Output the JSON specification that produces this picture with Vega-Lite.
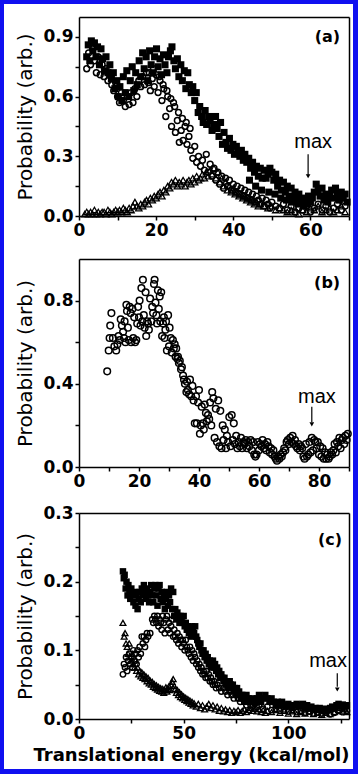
{
"$schema": "https://vega.github.io/schema/vega-lite/v6.json",
"background": "#1010f0",
"padding": {"left": 4, "top": 4, "right": 5, "bottom": 5},
"config": {
  "view": {"fill": "white", "stroke": null},
  "axis": {"domainColor": "black", "domainWidth": 1.5, "tickColor": "black", "tickWidth": 1.5, "tickSize": 4, "labelFont": "DejaVu Sans", "labelFontWeight": "bold", "labelFontSize": 17, "labelColor": "black", "labelPadding": 2, "labelFlush": false, "labelOverlap": false, "grid": false, "titleFont": "DejaVu Sans", "titleColor": "black", "titleFontWeight": "normal", "titleFontSize": 20, "titlePadding": 7}
},
"datasets": {
"a_sq": [{"x":2.0,"y":0.80},{"x":2.4,"y":0.86},{"x":2.8,"y":0.78},{"x":3.2,"y":0.88},{"x":3.6,"y":0.83},{"x":4.0,"y":0.87},{"x":4.4,"y":0.80},{"x":4.8,"y":0.85},{"x":5.3,"y":0.76},{"x":5.7,"y":0.84},{"x":6.1,"y":0.79},{"x":6.6,"y":0.73},{"x":7.0,"y":0.80},{"x":7.5,"y":0.72},{"x":8.0,"y":0.76},{"x":8.4,"y":0.69},{"x":8.9,"y":0.72},{"x":9.3,"y":0.64},{"x":9.8,"y":0.68},{"x":10.2,"y":0.60},{"x":10.6,"y":0.65},{"x":11.1,"y":0.58},{"x":11.5,"y":0.70},{"x":12.0,"y":0.62},{"x":12.4,"y":0.73},{"x":12.9,"y":0.60},{"x":13.3,"y":0.68},{"x":13.8,"y":0.75},{"x":14.2,"y":0.63},{"x":14.7,"y":0.72},{"x":15.1,"y":0.66},{"x":15.6,"y":0.78},{"x":16.0,"y":0.70},{"x":16.5,"y":0.82},{"x":16.9,"y":0.74},{"x":17.4,"y":0.80},{"x":17.8,"y":0.68},{"x":18.3,"y":0.83},{"x":18.7,"y":0.76},{"x":19.2,"y":0.72},{"x":19.6,"y":0.80},{"x":20.1,"y":0.84},{"x":20.5,"y":0.75},{"x":21.0,"y":0.79},{"x":21.4,"y":0.71},{"x":21.9,"y":0.81},{"x":22.3,"y":0.76},{"x":22.8,"y":0.72},{"x":23.2,"y":0.80},{"x":23.7,"y":0.83},{"x":24.1,"y":0.85},{"x":24.6,"y":0.78},{"x":25.0,"y":0.74},{"x":25.5,"y":0.79},{"x":25.9,"y":0.70},{"x":26.4,"y":0.76},{"x":26.8,"y":0.68},{"x":27.3,"y":0.73},{"x":27.7,"y":0.64},{"x":28.2,"y":0.72},{"x":28.6,"y":0.66},{"x":29.1,"y":0.62},{"x":29.5,"y":0.65},{"x":30.0,"y":0.58},{"x":30.4,"y":0.62},{"x":30.9,"y":0.52},{"x":31.3,"y":0.55},{"x":31.8,"y":0.50},{"x":32.2,"y":0.47},{"x":32.7,"y":0.53},{"x":33.1,"y":0.46},{"x":33.6,"y":0.50},{"x":34.0,"y":0.48},{"x":34.5,"y":0.43},{"x":34.9,"y":0.46},{"x":35.4,"y":0.50},{"x":35.8,"y":0.44},{"x":36.3,"y":0.40},{"x":36.7,"y":0.47},{"x":37.2,"y":0.36},{"x":37.6,"y":0.42},{"x":38.1,"y":0.37},{"x":38.5,"y":0.34},{"x":39.0,"y":0.39},{"x":39.4,"y":0.33},{"x":39.9,"y":0.36},{"x":40.3,"y":0.31},{"x":40.8,"y":0.35},{"x":41.2,"y":0.32},{"x":41.7,"y":0.30},{"x":42.1,"y":0.33},{"x":42.6,"y":0.28},{"x":43.0,"y":0.31},{"x":43.5,"y":0.27},{"x":44.0,"y":0.29},{"x":44.2,"y":0.18},{"x":44.5,"y":0.24},{"x":45.0,"y":0.27},{"x":45.5,"y":0.22},{"x":45.8,"y":0.15},{"x":46.0,"y":0.25},{"x":46.5,"y":0.20},{"x":47.0,"y":0.24},{"x":47.3,"y":0.13},{"x":47.5,"y":0.19},{"x":48.0,"y":0.23},{"x":48.5,"y":0.19},{"x":49.0,"y":0.21},{"x":49.2,"y":0.12},{"x":49.5,"y":0.24},{"x":50.0,"y":0.22},{"x":50.5,"y":0.18},{"x":50.8,"y":0.11},{"x":51.0,"y":0.21},{"x":51.5,"y":0.15},{"x":52.0,"y":0.18},{"x":52.3,"y":0.09},{"x":52.5,"y":0.13},{"x":53.0,"y":0.17},{"x":53.5,"y":0.12},{"x":53.8,"y":0.08},{"x":54.0,"y":0.15},{"x":54.5,"y":0.10},{"x":55.0,"y":0.14},{"x":55.2,"y":0.07},{"x":55.5,"y":0.09},{"x":56.0,"y":0.12},{"x":56.5,"y":0.08},{"x":56.8,"y":0.06},{"x":57.0,"y":0.11},{"x":57.5,"y":0.07},{"x":58.0,"y":0.09},{"x":58.2,"y":0.05},{"x":58.5,"y":0.06},{"x":59.0,"y":0.08},{"x":59.3,"y":0.06},{"x":59.5,"y":0.10},{"x":60.0,"y":0.07},{"x":60.5,"y":0.09},{"x":61.0,"y":0.12},{"x":61.5,"y":0.16},{"x":62.0,"y":0.13},{"x":62.5,"y":0.10},{"x":63.0,"y":0.14},{"x":63.5,"y":0.08},{"x":64.0,"y":0.11},{"x":64.5,"y":0.07},{"x":65.0,"y":0.10},{"x":65.5,"y":0.13},{"x":66.0,"y":0.09},{"x":66.5,"y":0.14},{"x":67.0,"y":0.11},{"x":67.5,"y":0.08},{"x":68.0,"y":0.12},{"x":68.5,"y":0.09},{"x":69.0,"y":0.11},{"x":69.5,"y":0.07}],
"a_ci": [{"x":2.0,"y":0.74},{"x":2.5,"y":0.82},{"x":3.0,"y":0.76},{"x":3.5,"y":0.84},{"x":4.0,"y":0.78},{"x":4.5,"y":0.72},{"x":5.0,"y":0.80},{"x":5.5,"y":0.71},{"x":6.0,"y":0.76},{"x":6.5,"y":0.70},{"x":7.0,"y":0.74},{"x":7.5,"y":0.68},{"x":8.0,"y":0.71},{"x":8.5,"y":0.66},{"x":9.0,"y":0.63},{"x":9.5,"y":0.67},{"x":10.0,"y":0.60},{"x":10.5,"y":0.57},{"x":11.0,"y":0.62},{"x":11.5,"y":0.58},{"x":12.0,"y":0.55},{"x":12.5,"y":0.60},{"x":13.0,"y":0.56},{"x":13.5,"y":0.62},{"x":14.0,"y":0.57},{"x":14.5,"y":0.64},{"x":15.0,"y":0.60},{"x":15.5,"y":0.68},{"x":16.0,"y":0.65},{"x":16.5,"y":0.70},{"x":17.0,"y":0.66},{"x":17.5,"y":0.72},{"x":18.0,"y":0.67},{"x":18.2,"y":0.72},{"x":18.5,"y":0.63},{"x":19.0,"y":0.69},{"x":19.3,"y":0.74},{"x":19.5,"y":0.65},{"x":20.0,"y":0.71},{"x":20.5,"y":0.62},{"x":20.8,"y":0.70},{"x":21.0,"y":0.68},{"x":21.5,"y":0.58},{"x":21.8,"y":0.66},{"x":22.0,"y":0.64},{"x":22.5,"y":0.50},{"x":22.8,"y":0.63},{"x":23.0,"y":0.60},{"x":23.5,"y":0.54},{"x":23.8,"y":0.59},{"x":24.0,"y":0.45},{"x":24.5,"y":0.57},{"x":24.8,"y":0.55},{"x":25.0,"y":0.42},{"x":25.5,"y":0.48},{"x":25.8,"y":0.52},{"x":26.0,"y":0.37},{"x":26.5,"y":0.43},{"x":26.8,"y":0.49},{"x":27.0,"y":0.38},{"x":27.5,"y":0.45},{"x":27.8,"y":0.47},{"x":28.0,"y":0.36},{"x":28.5,"y":0.40},{"x":28.8,"y":0.44},{"x":29.0,"y":0.33},{"x":29.5,"y":0.29},{"x":30.0,"y":0.35},{"x":30.5,"y":0.27},{"x":31.0,"y":0.30},{"x":31.5,"y":0.25},{"x":32.0,"y":0.28},{"x":32.5,"y":0.23},{"x":33.0,"y":0.31},{"x":33.5,"y":0.22},{"x":34.0,"y":0.26},{"x":34.5,"y":0.20},{"x":35.0,"y":0.24},{"x":35.5,"y":0.18},{"x":36.0,"y":0.22},{"x":36.5,"y":0.16},{"x":37.0,"y":0.20},{"x":37.5,"y":0.14},{"x":38.0,"y":0.19},{"x":38.5,"y":0.15},{"x":39.0,"y":0.18},{"x":39.5,"y":0.13},{"x":40.0,"y":0.16},{"x":40.5,"y":0.12},{"x":41.0,"y":0.15},{"x":41.5,"y":0.11},{"x":42.0,"y":0.14},{"x":42.5,"y":0.10},{"x":43.0,"y":0.13},{"x":43.5,"y":0.09},{"x":44.0,"y":0.12},{"x":44.5,"y":0.08},{"x":45.0,"y":0.11},{"x":45.5,"y":0.07},{"x":46.0,"y":0.10},{"x":46.5,"y":0.08},{"x":47.0,"y":0.06},{"x":47.5,"y":0.09},{"x":48.0,"y":0.05},{"x":48.5,"y":0.08},{"x":49.0,"y":0.06},{"x":49.5,"y":0.04},{"x":50.0,"y":0.07},{"x":51.0,"y":0.05},{"x":52.0,"y":0.04},{"x":53.0,"y":0.06},{"x":54.0,"y":0.03},{"x":55.0,"y":0.05},{"x":56.0,"y":0.02},{"x":57.0,"y":0.04},{"x":58.0,"y":0.03},{"x":59.0,"y":0.05},{"x":60.0,"y":0.02},{"x":61.0,"y":0.04},{"x":62.0,"y":0.06},{"x":63.0,"y":0.03},{"x":64.0,"y":0.05},{"x":65.0,"y":0.02},{"x":66.0,"y":0.04},{"x":67.0,"y":0.06},{"x":68.0,"y":0.03},{"x":69.0,"y":0.05}],
"a_tr": [{"x":1.5,"y":0.01},{"x":2.0,"y":0.02},{"x":2.5,"y":0.01},{"x":3.0,"y":0.02},{"x":3.5,"y":0.01},{"x":4.0,"y":0.03},{"x":4.5,"y":0.01},{"x":5.0,"y":0.02},{"x":5.5,"y":0.01},{"x":6.0,"y":0.02},{"x":6.5,"y":0.02},{"x":7.0,"y":0.01},{"x":7.5,"y":0.03},{"x":8.0,"y":0.02},{"x":8.5,"y":0.01},{"x":9.0,"y":0.02},{"x":9.5,"y":0.03},{"x":10.0,"y":0.02},{"x":10.5,"y":0.03},{"x":11.0,"y":0.02},{"x":11.5,"y":0.04},{"x":12.0,"y":0.03},{"x":12.5,"y":0.02},{"x":13.0,"y":0.04},{"x":13.5,"y":0.03},{"x":14.0,"y":0.05},{"x":14.5,"y":0.07},{"x":15.0,"y":0.05},{"x":15.5,"y":0.04},{"x":16.0,"y":0.06},{"x":16.5,"y":0.05},{"x":17.0,"y":0.07},{"x":17.5,"y":0.08},{"x":18.0,"y":0.06},{"x":18.5,"y":0.09},{"x":19.0,"y":0.08},{"x":19.5,"y":0.10},{"x":20.0,"y":0.09},{"x":20.5,"y":0.11},{"x":21.0,"y":0.12},{"x":21.5,"y":0.10},{"x":22.0,"y":0.13},{"x":22.5,"y":0.12},{"x":23.0,"y":0.15},{"x":23.5,"y":0.14},{"x":24.0,"y":0.17},{"x":24.5,"y":0.16},{"x":25.0,"y":0.18},{"x":25.5,"y":0.15},{"x":26.0,"y":0.17},{"x":26.5,"y":0.16},{"x":27.0,"y":0.18},{"x":27.5,"y":0.15},{"x":28.0,"y":0.17},{"x":28.5,"y":0.18},{"x":29.0,"y":0.16},{"x":29.5,"y":0.19},{"x":30.0,"y":0.17},{"x":30.5,"y":0.20},{"x":31.0,"y":0.18},{"x":31.5,"y":0.19},{"x":32.0,"y":0.21},{"x":32.5,"y":0.19},{"x":33.0,"y":0.22},{"x":33.5,"y":0.20},{"x":34.0,"y":0.23},{"x":34.5,"y":0.21},{"x":35.0,"y":0.24},{"x":35.5,"y":0.19},{"x":36.0,"y":0.22},{"x":36.5,"y":0.17},{"x":37.0,"y":0.19},{"x":37.5,"y":0.15},{"x":38.0,"y":0.17},{"x":38.5,"y":0.13},{"x":39.0,"y":0.15},{"x":39.5,"y":0.12},{"x":40.0,"y":0.14},{"x":40.5,"y":0.11},{"x":41.0,"y":0.12},{"x":41.5,"y":0.10},{"x":42.0,"y":0.11},{"x":42.5,"y":0.09},{"x":43.0,"y":0.10},{"x":43.5,"y":0.08},{"x":44.0,"y":0.09},{"x":44.5,"y":0.07},{"x":45.0,"y":0.08},{"x":45.5,"y":0.06},{"x":46.0,"y":0.07},{"x":46.5,"y":0.05},{"x":47.0,"y":0.06},{"x":48.0,"y":0.05},{"x":49.0,"y":0.04},{"x":50.0,"y":0.05},{"x":51.0,"y":0.03},{"x":52.0,"y":0.04},{"x":53.0,"y":0.03},{"x":54.0,"y":0.02},{"x":55.0,"y":0.03},{"x":56.0,"y":0.02},{"x":57.0,"y":0.01},{"x":58.0,"y":0.03},{"x":59.0,"y":0.02},{"x":60.0,"y":0.04},{"x":61.0,"y":0.03},{"x":62.0,"y":0.05},{"x":63.0,"y":0.02},{"x":64.0,"y":0.03},{"x":65.0,"y":0.04},{"x":66.0,"y":0.02},{"x":67.0,"y":0.03},{"x":68.0,"y":0.05},{"x":69.0,"y":0.02}],
"b_ci": [{"x":9.4,"y":0.46},{"x":9.9,"y":0.56},{"x":10.2,"y":0.62},{"x":10.4,"y":0.68},{"x":10.8,"y":0.74},{"x":11.3,"y":0.62},{"x":11.8,"y":0.58},{"x":12.4,"y":0.56},{"x":12.8,"y":0.59},{"x":13.2,"y":0.63},{"x":13.6,"y":0.61},{"x":13.9,"y":0.71},{"x":14.3,"y":0.68},{"x":14.7,"y":0.65},{"x":15.0,"y":0.62},{"x":15.2,"y":0.70},{"x":15.5,"y":0.60},{"x":15.8,"y":0.78},{"x":16.0,"y":0.75},{"x":16.3,"y":0.67},{"x":16.6,"y":0.61},{"x":16.9,"y":0.77},{"x":17.2,"y":0.74},{"x":17.4,"y":0.60},{"x":17.8,"y":0.76},{"x":18.1,"y":0.62},{"x":18.4,"y":0.72},{"x":18.7,"y":0.60},{"x":19.1,"y":0.61},{"x":19.4,"y":0.69},{"x":19.7,"y":0.77},{"x":20.0,"y":0.72},{"x":20.2,"y":0.80},{"x":20.5,"y":0.68},{"x":20.8,"y":0.86},{"x":21.1,"y":0.70},{"x":21.3,"y":0.90},{"x":21.6,"y":0.73},{"x":21.9,"y":0.67},{"x":22.2,"y":0.84},{"x":22.4,"y":0.63},{"x":22.7,"y":0.70},{"x":23.0,"y":0.69},{"x":23.3,"y":0.66},{"x":23.7,"y":0.81},{"x":24.1,"y":0.70},{"x":24.4,"y":0.77},{"x":24.7,"y":0.74},{"x":25.0,"y":0.88},{"x":25.2,"y":0.90},{"x":25.5,"y":0.79},{"x":25.8,"y":0.73},{"x":26.0,"y":0.69},{"x":26.3,"y":0.85},{"x":26.6,"y":0.76},{"x":26.9,"y":0.82},{"x":27.1,"y":0.70},{"x":27.4,"y":0.84},{"x":27.7,"y":0.63},{"x":28.0,"y":0.69},{"x":28.3,"y":0.72},{"x":28.5,"y":0.62},{"x":28.8,"y":0.66},{"x":29.0,"y":0.70},{"x":29.3,"y":0.56},{"x":29.7,"y":0.73},{"x":30.0,"y":0.58},{"x":30.2,"y":0.67},{"x":30.6,"y":0.62},{"x":30.9,"y":0.55},{"x":31.3,"y":0.61},{"x":31.6,"y":0.57},{"x":31.9,"y":0.59},{"x":32.2,"y":0.53},{"x":32.4,"y":0.57},{"x":32.8,"y":0.52},{"x":33.0,"y":0.53},{"x":33.3,"y":0.50},{"x":33.6,"y":0.51},{"x":34.0,"y":0.47},{"x":34.3,"y":0.48},{"x":34.7,"y":0.44},{"x":35.0,"y":0.42},{"x":35.3,"y":0.40},{"x":35.8,"y":0.36},{"x":36.0,"y":0.41},{"x":36.3,"y":0.37},{"x":36.7,"y":0.35},{"x":37.0,"y":0.42},{"x":37.4,"y":0.34},{"x":37.8,"y":0.39},{"x":38.2,"y":0.32},{"x":38.6,"y":0.21},{"x":39.0,"y":0.34},{"x":39.3,"y":0.21},{"x":39.7,"y":0.31},{"x":40.0,"y":0.37},{"x":40.3,"y":0.16},{"x":40.6,"y":0.20},{"x":40.9,"y":0.29},{"x":41.3,"y":0.21},{"x":41.6,"y":0.18},{"x":41.9,"y":0.30},{"x":42.3,"y":0.26},{"x":42.6,"y":0.22},{"x":43.0,"y":0.25},{"x":43.4,"y":0.23},{"x":43.7,"y":0.31},{"x":44.1,"y":0.20},{"x":44.4,"y":0.36},{"x":44.8,"y":0.33},{"x":45.2,"y":0.14},{"x":45.6,"y":0.28},{"x":46.0,"y":0.12},{"x":46.4,"y":0.32},{"x":46.8,"y":0.10},{"x":47.1,"y":0.27},{"x":47.5,"y":0.09},{"x":47.9,"y":0.20},{"x":48.2,"y":0.13},{"x":48.6,"y":0.18},{"x":49.0,"y":0.09},{"x":49.3,"y":0.15},{"x":49.7,"y":0.12},{"x":50.1,"y":0.24},{"x":50.5,"y":0.10},{"x":50.9,"y":0.25},{"x":51.3,"y":0.13},{"x":51.6,"y":0.21},{"x":52.0,"y":0.11},{"x":52.4,"y":0.15},{"x":52.8,"y":0.09},{"x":53.2,"y":0.12},{"x":53.6,"y":0.10},{"x":54.0,"y":0.14},{"x":54.4,"y":0.09},{"x":54.8,"y":0.12},{"x":55.2,"y":0.11},{"x":55.6,"y":0.13},{"x":56.0,"y":0.09},{"x":56.4,"y":0.12},{"x":56.8,"y":0.10},{"x":57.2,"y":0.13},{"x":57.6,"y":0.08},{"x":58.0,"y":0.12},{"x":58.4,"y":0.06},{"x":58.8,"y":0.05},{"x":59.2,"y":0.06},{"x":59.6,"y":0.12},{"x":60.0,"y":0.08},{"x":60.4,"y":0.11},{"x":60.8,"y":0.10},{"x":61.2,"y":0.13},{"x":61.6,"y":0.09},{"x":62.0,"y":0.11},{"x":62.4,"y":0.08},{"x":62.8,"y":0.12},{"x":63.2,"y":0.10},{"x":63.6,"y":0.07},{"x":64.0,"y":0.09},{"x":64.4,"y":0.06},{"x":64.8,"y":0.08},{"x":65.2,"y":0.05},{"x":65.6,"y":0.04},{"x":66.0,"y":0.03},{"x":66.4,"y":0.05},{"x":66.8,"y":0.04},{"x":67.2,"y":0.06},{"x":67.6,"y":0.05},{"x":68.0,"y":0.07},{"x":68.4,"y":0.09},{"x":68.8,"y":0.08},{"x":69.2,"y":0.12},{"x":69.6,"y":0.13},{"x":70.0,"y":0.11},{"x":70.4,"y":0.14},{"x":70.8,"y":0.12},{"x":71.2,"y":0.15},{"x":71.6,"y":0.11},{"x":72.0,"y":0.13},{"x":72.4,"y":0.10},{"x":72.8,"y":0.09},{"x":73.2,"y":0.11},{"x":73.6,"y":0.08},{"x":74.0,"y":0.10},{"x":74.4,"y":0.09},{"x":74.8,"y":0.05},{"x":75.2,"y":0.04},{"x":75.6,"y":0.11},{"x":76.0,"y":0.05},{"x":76.4,"y":0.06},{"x":76.8,"y":0.12},{"x":77.2,"y":0.07},{"x":77.6,"y":0.14},{"x":78.0,"y":0.08},{"x":78.4,"y":0.13},{"x":78.8,"y":0.12},{"x":79.2,"y":0.09},{"x":79.6,"y":0.12},{"x":80.0,"y":0.06},{"x":80.4,"y":0.10},{"x":80.8,"y":0.05},{"x":81.2,"y":0.09},{"x":81.6,"y":0.04},{"x":82.0,"y":0.07},{"x":82.4,"y":0.04},{"x":82.8,"y":0.06},{"x":83.2,"y":0.04},{"x":83.6,"y":0.05},{"x":84.0,"y":0.07},{"x":84.4,"y":0.06},{"x":84.8,"y":0.08},{"x":85.2,"y":0.11},{"x":85.6,"y":0.07},{"x":86.0,"y":0.12},{"x":86.4,"y":0.10},{"x":86.8,"y":0.14},{"x":87.2,"y":0.09},{"x":87.6,"y":0.13},{"x":88.0,"y":0.14},{"x":88.4,"y":0.11},{"x":88.8,"y":0.15},{"x":89.2,"y":0.13},{"x":89.6,"y":0.16}],
"c_sq": [{"x":21.0,"y":0.215},{"x":21.4,"y":0.205},{"x":21.8,"y":0.21},{"x":22.3,"y":0.19},{"x":22.7,"y":0.20},{"x":23.2,"y":0.18},{"x":23.6,"y":0.195},{"x":24.1,"y":0.185},{"x":24.5,"y":0.175},{"x":25.0,"y":0.19},{"x":25.5,"y":0.18},{"x":26.0,"y":0.17},{"x":26.5,"y":0.185},{"x":27.0,"y":0.165},{"x":27.5,"y":0.18},{"x":28.0,"y":0.16},{"x":28.5,"y":0.175},{"x":29.0,"y":0.185},{"x":29.5,"y":0.17},{"x":30.0,"y":0.19},{"x":30.5,"y":0.18},{"x":31.0,"y":0.195},{"x":31.5,"y":0.185},{"x":32.0,"y":0.175},{"x":32.5,"y":0.19},{"x":33.0,"y":0.18},{"x":33.5,"y":0.17},{"x":34.0,"y":0.185},{"x":34.5,"y":0.195},{"x":35.0,"y":0.18},{"x":35.5,"y":0.17},{"x":36.0,"y":0.19},{"x":36.5,"y":0.195},{"x":37.0,"y":0.18},{"x":37.5,"y":0.165},{"x":38.0,"y":0.19},{"x":38.5,"y":0.195},{"x":39.0,"y":0.175},{"x":39.5,"y":0.185},{"x":40.0,"y":0.17},{"x":40.5,"y":0.18},{"x":41.0,"y":0.16},{"x":41.5,"y":0.175},{"x":42.0,"y":0.185},{"x":42.5,"y":0.165},{"x":43.0,"y":0.18},{"x":43.5,"y":0.17},{"x":44.0,"y":0.19},{"x":44.5,"y":0.16},{"x":45.0,"y":0.185},{"x":45.5,"y":0.15},{"x":46.0,"y":0.16},{"x":46.5,"y":0.145},{"x":47.0,"y":0.155},{"x":47.5,"y":0.15},{"x":48.0,"y":0.14},{"x":48.5,"y":0.15},{"x":49.0,"y":0.145},{"x":49.5,"y":0.14},{"x":50.0,"y":0.15},{"x":50.5,"y":0.135},{"x":51.0,"y":0.14},{"x":51.5,"y":0.13},{"x":52.0,"y":0.135},{"x":52.5,"y":0.125},{"x":53.0,"y":0.13},{"x":53.5,"y":0.12},{"x":54.0,"y":0.135},{"x":54.5,"y":0.13},{"x":55.0,"y":0.125},{"x":55.5,"y":0.135},{"x":56.0,"y":0.12},{"x":56.5,"y":0.115},{"x":57.0,"y":0.11},{"x":57.5,"y":0.105},{"x":58.0,"y":0.11},{"x":58.5,"y":0.10},{"x":59.0,"y":0.095},{"x":59.5,"y":0.10},{"x":60.0,"y":0.09},{"x":60.5,"y":0.095},{"x":61.0,"y":0.085},{"x":61.5,"y":0.09},{"x":62.0,"y":0.08},{"x":62.5,"y":0.085},{"x":63.0,"y":0.075},{"x":63.5,"y":0.08},{"x":64.0,"y":0.085},{"x":64.5,"y":0.075},{"x":65.0,"y":0.08},{"x":65.5,"y":0.07},{"x":66.0,"y":0.075},{"x":66.5,"y":0.065},{"x":67.0,"y":0.07},{"x":67.5,"y":0.06},{"x":68.0,"y":0.065},{"x":68.5,"y":0.06},{"x":69.0,"y":0.055},{"x":69.5,"y":0.06},{"x":70.0,"y":0.05},{"x":70.5,"y":0.055},{"x":71.0,"y":0.05},{"x":71.5,"y":0.045},{"x":72.0,"y":0.055},{"x":72.5,"y":0.05},{"x":73.0,"y":0.045},{"x":73.5,"y":0.05},{"x":74.0,"y":0.04},{"x":74.5,"y":0.045},{"x":75.0,"y":0.04},{"x":75.5,"y":0.045},{"x":76.0,"y":0.035},{"x":76.5,"y":0.04},{"x":77.0,"y":0.035},{"x":77.5,"y":0.03},{"x":78.0,"y":0.035},{"x":78.5,"y":0.03},{"x":79.0,"y":0.025},{"x":79.5,"y":0.03},{"x":80.0,"y":0.035},{"x":81.0,"y":0.03},{"x":82.0,"y":0.025},{"x":83.0,"y":0.03},{"x":84.0,"y":0.025},{"x":85.0,"y":0.03},{"x":86.0,"y":0.035},{"x":87.0,"y":0.025},{"x":88.0,"y":0.03},{"x":89.0,"y":0.035},{"x":90.0,"y":0.03},{"x":91.0,"y":0.025},{"x":92.0,"y":0.03},{"x":93.0,"y":0.025},{"x":94.0,"y":0.02},{"x":95.0,"y":0.025},{"x":96.0,"y":0.02},{"x":97.0,"y":0.025},{"x":98.0,"y":0.02},{"x":99.0,"y":0.018},{"x":100.0,"y":0.022},{"x":101.0,"y":0.02},{"x":102.0,"y":0.016},{"x":103.0,"y":0.02},{"x":104.0,"y":0.022},{"x":105.0,"y":0.018},{"x":106.0,"y":0.02},{"x":107.0,"y":0.022},{"x":108.0,"y":0.016},{"x":109.0,"y":0.02},{"x":110.0,"y":0.015},{"x":111.0,"y":0.018},{"x":112.0,"y":0.014},{"x":113.0,"y":0.016},{"x":114.0,"y":0.013},{"x":115.0,"y":0.016},{"x":116.0,"y":0.014},{"x":117.0,"y":0.012},{"x":118.0,"y":0.015},{"x":119.0,"y":0.013},{"x":120.0,"y":0.016},{"x":121.0,"y":0.018},{"x":122.0,"y":0.015},{"x":123.0,"y":0.02},{"x":124.0,"y":0.022},{"x":125.0,"y":0.019},{"x":126.0,"y":0.021},{"x":127.0,"y":0.018},{"x":128.0,"y":0.02}],
"c_ci": [{"x":21.0,"y":0.065},{"x":21.5,"y":0.08},{"x":22.0,"y":0.075},{"x":22.5,"y":0.09},{"x":23.0,"y":0.07},{"x":23.5,"y":0.085},{"x":24.0,"y":0.095},{"x":24.5,"y":0.08},{"x":25.0,"y":0.09},{"x":25.5,"y":0.075},{"x":26.0,"y":0.10},{"x":26.5,"y":0.085},{"x":27.0,"y":0.095},{"x":27.5,"y":0.08},{"x":28.0,"y":0.10},{"x":28.5,"y":0.09},{"x":29.0,"y":0.105},{"x":29.5,"y":0.095},{"x":30.0,"y":0.12},{"x":30.5,"y":0.11},{"x":31.0,"y":0.12},{"x":31.5,"y":0.105},{"x":32.0,"y":0.115},{"x":32.5,"y":0.125},{"x":33.0,"y":0.12},{"x":34.0,"y":0.125},{"x":35.0,"y":0.145},{"x":35.5,"y":0.14},{"x":36.0,"y":0.15},{"x":36.5,"y":0.145},{"x":37.0,"y":0.14},{"x":37.5,"y":0.15},{"x":38.0,"y":0.135},{"x":38.5,"y":0.145},{"x":39.0,"y":0.14},{"x":39.5,"y":0.13},{"x":40.0,"y":0.15},{"x":40.5,"y":0.14},{"x":41.0,"y":0.125},{"x":41.5,"y":0.145},{"x":42.0,"y":0.15},{"x":42.5,"y":0.13},{"x":43.0,"y":0.14},{"x":43.5,"y":0.125},{"x":44.0,"y":0.135},{"x":44.5,"y":0.145},{"x":45.0,"y":0.12},{"x":45.5,"y":0.13},{"x":46.0,"y":0.12},{"x":46.5,"y":0.115},{"x":47.0,"y":0.125},{"x":47.5,"y":0.11},{"x":48.0,"y":0.12},{"x":48.5,"y":0.115},{"x":49.0,"y":0.105},{"x":49.5,"y":0.115},{"x":50.0,"y":0.11},{"x":50.5,"y":0.10},{"x":51.0,"y":0.115},{"x":51.5,"y":0.105},{"x":52.0,"y":0.10},{"x":52.5,"y":0.095},{"x":53.0,"y":0.105},{"x":53.5,"y":0.09},{"x":54.0,"y":0.10},{"x":54.5,"y":0.085},{"x":55.0,"y":0.095},{"x":55.5,"y":0.09},{"x":56.0,"y":0.08},{"x":56.5,"y":0.085},{"x":57.0,"y":0.075},{"x":57.5,"y":0.08},{"x":58.0,"y":0.07},{"x":58.5,"y":0.075},{"x":59.0,"y":0.065},{"x":59.5,"y":0.07},{"x":60.0,"y":0.065},{"x":60.5,"y":0.06},{"x":61.0,"y":0.07},{"x":61.5,"y":0.06},{"x":62.0,"y":0.065},{"x":62.5,"y":0.055},{"x":63.0,"y":0.06},{"x":63.5,"y":0.055},{"x":64.0,"y":0.05},{"x":64.5,"y":0.055},{"x":65.0,"y":0.05},{"x":65.5,"y":0.045},{"x":66.0,"y":0.05},{"x":67.0,"y":0.045},{"x":68.0,"y":0.04},{"x":69.0,"y":0.045},{"x":70.0,"y":0.04},{"x":71.0,"y":0.035},{"x":72.0,"y":0.04},{"x":73.0,"y":0.035},{"x":74.0,"y":0.03},{"x":75.0,"y":0.035},{"x":76.0,"y":0.03},{"x":77.0,"y":0.025},{"x":78.0,"y":0.03},{"x":79.0,"y":0.025},{"x":80.0,"y":0.02},{"x":81.0,"y":0.025},{"x":82.0,"y":0.02},{"x":83.0,"y":0.018},{"x":84.0,"y":0.022},{"x":85.0,"y":0.017},{"x":86.0,"y":0.02},{"x":88.0,"y":0.015},{"x":90.0,"y":0.018},{"x":92.0,"y":0.013},{"x":94.0,"y":0.015},{"x":96.0,"y":0.012},{"x":98.0,"y":0.014},{"x":100.0,"y":0.011},{"x":102.0,"y":0.013},{"x":104.0,"y":0.01},{"x":106.0,"y":0.012},{"x":108.0,"y":0.009},{"x":110.0,"y":0.011},{"x":112.0,"y":0.008},{"x":114.0,"y":0.01},{"x":116.0,"y":0.008},{"x":118.0,"y":0.01},{"x":120.0,"y":0.007},{"x":122.0,"y":0.009},{"x":124.0,"y":0.012},{"x":126.0,"y":0.01},{"x":128.0,"y":0.012}],
"c_tr": [{"x":21.0,"y":0.14},{"x":21.6,"y":0.12},{"x":22.0,"y":0.125},{"x":22.5,"y":0.11},{"x":23.0,"y":0.105},{"x":23.5,"y":0.095},{"x":24.0,"y":0.11},{"x":24.5,"y":0.09},{"x":25.0,"y":0.085},{"x":25.5,"y":0.095},{"x":26.0,"y":0.08},{"x":26.5,"y":0.075},{"x":27.0,"y":0.085},{"x":27.5,"y":0.07},{"x":28.0,"y":0.075},{"x":28.5,"y":0.065},{"x":29.0,"y":0.07},{"x":29.5,"y":0.062},{"x":30.0,"y":0.068},{"x":30.5,"y":0.06},{"x":31.0,"y":0.065},{"x":31.5,"y":0.058},{"x":32.0,"y":0.062},{"x":32.5,"y":0.055},{"x":33.0,"y":0.06},{"x":33.5,"y":0.052},{"x":34.0,"y":0.056},{"x":34.5,"y":0.05},{"x":35.0,"y":0.054},{"x":35.5,"y":0.047},{"x":36.0,"y":0.051},{"x":36.5,"y":0.045},{"x":37.0,"y":0.049},{"x":37.5,"y":0.043},{"x":38.0,"y":0.047},{"x":38.5,"y":0.041},{"x":39.0,"y":0.045},{"x":39.5,"y":0.04},{"x":40.0,"y":0.044},{"x":40.5,"y":0.038},{"x":41.0,"y":0.042},{"x":41.5,"y":0.046},{"x":42.0,"y":0.04},{"x":42.5,"y":0.044},{"x":43.0,"y":0.048},{"x":43.5,"y":0.042},{"x":44.0,"y":0.05},{"x":44.5,"y":0.054},{"x":45.0,"y":0.058},{"x":45.5,"y":0.048},{"x":46.0,"y":0.044},{"x":46.5,"y":0.038},{"x":47.0,"y":0.042},{"x":47.5,"y":0.035},{"x":48.0,"y":0.039},{"x":48.5,"y":0.032},{"x":49.0,"y":0.036},{"x":49.5,"y":0.03},{"x":50.0,"y":0.033},{"x":50.5,"y":0.028},{"x":51.0,"y":0.031},{"x":51.5,"y":0.026},{"x":52.0,"y":0.029},{"x":52.5,"y":0.024},{"x":53.0,"y":0.027},{"x":53.5,"y":0.022},{"x":54.0,"y":0.025},{"x":54.5,"y":0.02},{"x":55.0,"y":0.023},{"x":56.0,"y":0.018},{"x":57.0,"y":0.022},{"x":58.0,"y":0.016},{"x":59.0,"y":0.02},{"x":60.0,"y":0.014},{"x":61.0,"y":0.018},{"x":62.0,"y":0.022},{"x":63.0,"y":0.016},{"x":64.0,"y":0.02},{"x":65.0,"y":0.014},{"x":66.0,"y":0.018},{"x":67.0,"y":0.012},{"x":68.0,"y":0.016},{"x":69.0,"y":0.011},{"x":70.0,"y":0.014},{"x":71.0,"y":0.01},{"x":72.0,"y":0.013},{"x":73.0,"y":0.009},{"x":74.0,"y":0.012},{"x":75.0,"y":0.01},{"x":76.0,"y":0.013},{"x":77.0,"y":0.009},{"x":78.0,"y":0.012},{"x":79.0,"y":0.014},{"x":80.0,"y":0.01},{"x":81.0,"y":0.013},{"x":82.0,"y":0.016},{"x":83.0,"y":0.012},{"x":84.0,"y":0.015},{"x":85.0,"y":0.011},{"x":86.0,"y":0.014},{"x":87.0,"y":0.01},{"x":88.0,"y":0.013},{"x":89.0,"y":0.009},{"x":90.0,"y":0.012},{"x":92.0,"y":0.01},{"x":94.0,"y":0.013},{"x":96.0,"y":0.009},{"x":98.0,"y":0.012},{"x":100.0,"y":0.008},{"x":102.0,"y":0.011},{"x":104.0,"y":0.007},{"x":106.0,"y":0.01},{"x":108.0,"y":0.008},{"x":110.0,"y":0.011},{"x":112.0,"y":0.007},{"x":114.0,"y":0.009},{"x":116.0,"y":0.006},{"x":118.0,"y":0.009},{"x":120.0,"y":0.007},{"x":122.0,"y":0.01},{"x":124.0,"y":0.013},{"x":125.0,"y":0.016},{"x":126.0,"y":0.011},{"x":127.0,"y":0.014},{"x":128.0,"y":0.01}]
},
"spacing": 0,
"bounds": "flush",
"vconcat": [
{
 "width": 349, "height": 235,
 "layer": [
  {"data": {"name": "a_sq"}, "mark": {"type": "point", "shape": "square", "filled": true, "color": "black", "size": 50, "opacity": 1},
   "encoding": {
    "x": {"field": "x", "type": "quantitative", "scale": {"domain": [0, 70], "range": [75, 345], "nice": false, "zero": false}, "axis": {"orient": "bottom", "offset": -23, "values": [0, 10, 20, 30, 40, 50, 60, 70], "labelExpr": "datum.value % 20 == 0 ? datum.label : ''", "title": null}},
    "y": {"field": "y", "type": "quantitative", "scale": {"domain": [0, 1], "range": [212, 13], "nice": false, "zero": false}, "axis": {"orient": "left", "offset": -75, "values": [0, 0.15, 0.3, 0.45, 0.6, 0.75, 0.9], "format": ".1f", "labelExpr": "round(datum.value*100) % 30 == 0 ? datum.label : ''", "title": "Probability (arb.)"}}}},
  {"data": {"name": "a_ci"}, "mark": {"type": "point", "shape": "circle", "filled": false, "color": "black", "size": 34, "strokeWidth": 1.5, "opacity": 1},
   "encoding": {"x": {"field": "x", "type": "quantitative", "axis": null}, "y": {"field": "y", "type": "quantitative", "axis": null}}},
  {"data": {"name": "a_tr"}, "mark": {"type": "point", "shape": "triangle-up", "filled": false, "color": "black", "size": 40, "strokeWidth": 1.3, "opacity": 1},
   "encoding": {"x": {"field": "x", "type": "quantitative", "axis": null}, "y": {"field": "y", "type": "quantitative", "axis": null}}},
  {"data": {"values": [{}]}, "mark": {"type": "text", "text": "(a)", "font": "DejaVu Sans", "fontWeight": "bold", "fontSize": 16, "color": "black", "align": "center", "baseline": "middle"},
   "encoding": {"x": {"datum": 64.4, "type": "quantitative", "axis": {"orient": "top", "offset": -13, "labels": false, "ticks": false, "title": null}}, "y": {"datum": 0.9, "type": "quantitative", "axis": {"orient": "right", "offset": -4, "labels": false, "ticks": false, "title": null}}}},
  {"data": {"values": [{}]}, "mark": {"type": "text", "text": "max", "font": "Liberation Sans", "fontSize": 20, "color": "black", "align": "center", "baseline": "alphabetic"},
   "encoding": {"x": {"datum": 60.7, "type": "quantitative", "axis": null}, "y": {"datum": 0.342, "type": "quantitative", "axis": null}}},
  {"data": {"values": [{}]}, "mark": {"type": "rule", "color": "black", "strokeWidth": 1.2},
   "encoding": {"x": {"datum": 59.4, "type": "quantitative", "axis": null}, "y": {"datum": 0.31, "type": "quantitative", "axis": null}, "y2": {"datum": 0.205}}},
  {"data": {"values": [{}]}, "mark": {"type": "point", "shape": "triangle-down", "filled": true, "color": "black", "size": 22, "opacity": 1},
   "encoding": {"x": {"datum": 59.4, "type": "quantitative", "axis": null}, "y": {"datum": 0.2, "type": "quantitative", "axis": null}}}
 ],
 "resolve": {"axis": {"x": "independent", "y": "independent"}}
},
{
 "width": 349, "height": 255,
 "layer": [
  {"data": {"name": "b_ci"}, "mark": {"type": "point", "shape": "circle", "filled": false, "color": "black", "size": 44, "strokeWidth": 1.5, "opacity": 1},
   "encoding": {
    "x": {"field": "x", "type": "quantitative", "scale": {"domain": [0, 90], "range": [75, 345], "nice": false, "zero": false}, "axis": {"orient": "bottom", "offset": -27, "values": [0, 10, 20, 30, 40, 50, 60, 70, 80, 90], "labelExpr": "datum.value % 20 == 0 ? datum.label : ''", "title": null}},
    "y": {"field": "y", "type": "quantitative", "scale": {"domain": [0, 1], "range": [228, 20], "nice": false, "zero": false}, "axis": {"orient": "left", "offset": -75, "values": [0, 0.2, 0.4, 0.6, 0.8], "format": ".1f", "labelExpr": "round(datum.value*100) % 40 == 0 ? datum.label : ''", "title": "Probability (arb.)"}}}},
  {"data": {"values": [{}]}, "mark": {"type": "text", "text": "(b)", "font": "DejaVu Sans", "fontWeight": "bold", "fontSize": 16, "color": "black", "align": "center", "baseline": "middle"},
   "encoding": {"x": {"datum": 82.7, "type": "quantitative", "axis": {"orient": "top", "offset": -20, "labels": false, "ticks": false, "title": null}}, "y": {"datum": 0.885, "type": "quantitative", "axis": {"orient": "right", "offset": -4, "labels": false, "ticks": false, "title": null}}}},
  {"data": {"values": [{}]}, "mark": {"type": "text", "text": "max", "font": "Liberation Sans", "fontSize": 20, "color": "black", "align": "center", "baseline": "alphabetic"},
   "encoding": {"x": {"datum": 79.3, "type": "quantitative", "axis": null}, "y": {"datum": 0.308, "type": "quantitative", "axis": null}}},
  {"data": {"values": [{}]}, "mark": {"type": "rule", "color": "black", "strokeWidth": 1.2},
   "encoding": {"x": {"datum": 77.6, "type": "quantitative", "axis": null}, "y": {"datum": 0.29, "type": "quantitative", "axis": null}, "y2": {"datum": 0.215}}},
  {"data": {"values": [{}]}, "mark": {"type": "point", "shape": "triangle-down", "filled": true, "color": "black", "size": 22, "opacity": 1},
   "encoding": {"x": {"datum": 77.6, "type": "quantitative", "axis": null}, "y": {"datum": 0.205, "type": "quantitative", "axis": null}}}
 ],
 "resolve": {"axis": {"x": "independent", "y": "independent"}}
},
{
 "width": 349, "height": 275,
 "layer": [
  {"data": {"name": "c_sq"}, "mark": {"type": "point", "shape": "square", "filled": true, "color": "black", "size": 42, "opacity": 1},
   "encoding": {
    "x": {"field": "x", "type": "quantitative", "scale": {"domain": [0, 129], "range": [75, 345], "nice": false, "zero": false}, "axis": {"orient": "bottom", "offset": -50, "values": [0, 25, 50, 75, 100, 125], "labelExpr": "datum.value % 50 == 0 ? datum.label : ''", "title": "Translational energy (kcal/mol)", "titleFontWeight": "bold", "titleFontSize": 18, "titleAnchor": "end", "titlePadding": 5}},
    "y": {"field": "y", "type": "quantitative", "scale": {"domain": [0, 0.3], "range": [225, 19], "nice": false, "zero": false}, "axis": {"orient": "left", "offset": -75, "values": [0, 0.05, 0.1, 0.15, 0.2, 0.25, 0.3], "format": ".1f", "labelExpr": "round(datum.value*100) % 10 == 0 ? datum.label : ''", "title": "Probability (arb.)"}}}},
  {"data": {"name": "c_ci"}, "mark": {"type": "point", "shape": "circle", "filled": false, "color": "black", "size": 30, "strokeWidth": 1.4, "opacity": 1},
   "encoding": {"x": {"field": "x", "type": "quantitative", "axis": null}, "y": {"field": "y", "type": "quantitative", "axis": null}}},
  {"data": {"name": "c_tr"}, "mark": {"type": "point", "shape": "triangle-up", "filled": false, "color": "black", "size": 34, "strokeWidth": 1.3, "opacity": 1},
   "encoding": {"x": {"field": "x", "type": "quantitative", "axis": null}, "y": {"field": "y", "type": "quantitative", "axis": null}}},
  {"data": {"values": [{}]}, "mark": {"type": "text", "text": "(c)", "font": "DejaVu Sans", "fontWeight": "bold", "fontSize": 16, "color": "black", "align": "center", "baseline": "middle"},
   "encoding": {"x": {"datum": 119.9, "type": "quantitative", "axis": {"orient": "top", "offset": -19, "labels": false, "ticks": false, "title": null}}, "y": {"datum": 0.261, "type": "quantitative", "axis": {"orient": "right", "offset": -4, "labels": false, "ticks": false, "title": null}}}},
  {"data": {"values": [{}]}, "mark": {"type": "text", "text": "max", "font": "Liberation Sans", "fontSize": 20, "color": "black", "align": "center", "baseline": "alphabetic"},
   "encoding": {"x": {"datum": 119, "type": "quantitative", "axis": null}, "y": {"datum": 0.076, "type": "quantitative", "axis": null}}},
  {"data": {"values": [{}]}, "mark": {"type": "rule", "color": "black", "strokeWidth": 1.2},
   "encoding": {"x": {"datum": 123.4, "type": "quantitative", "axis": null}, "y": {"datum": 0.0665, "type": "quantitative", "axis": null}, "y2": {"datum": 0.047}}},
  {"data": {"values": [{}]}, "mark": {"type": "point", "shape": "triangle-down", "filled": true, "color": "black", "size": 22, "opacity": 1},
   "encoding": {"x": {"datum": 123.4, "type": "quantitative", "axis": null}, "y": {"datum": 0.043, "type": "quantitative", "axis": null}}}
 ],
 "resolve": {"axis": {"x": "independent", "y": "independent"}}
}
]
}
